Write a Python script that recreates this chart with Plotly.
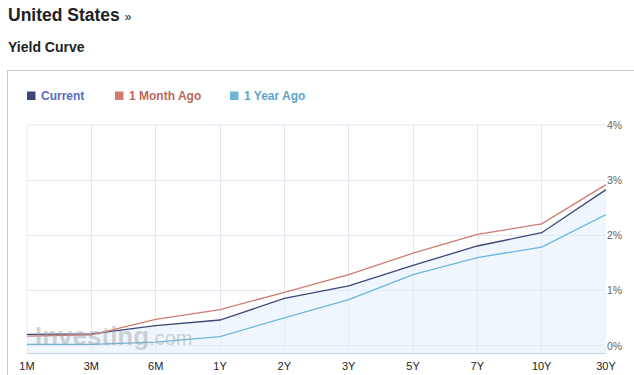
import plotly.graph_objects as go

maturities = ["1M", "3M", "6M", "1Y", "2Y", "3Y", "5Y", "7Y", "10Y", "30Y"]
current = [0.21, 0.22, 0.37, 0.47, 0.86, 1.09, 1.46, 1.81, 2.05, 2.83]
month_ago = [0.18, 0.20, 0.48, 0.66, 0.97, 1.29, 1.68, 2.02, 2.21, 2.92]
year_ago = [0.03, 0.03, 0.07, 0.17, 0.51, 0.84, 1.29, 1.60, 1.79, 2.38]
y_ticks = [0, 1, 2, 3, 4]
y_tick_labels = ["0%", "1%", "2%", "3%", "4%"]

W, H = 634, 375
L, R, T, B = 27, 606, 125, 353
Y_MIN, Y_MAX = -0.127, 4.0

def px(x):
    return (x - L) / (R - L)

def py(y):
    return (B - y) / (B - T)

C_NAVY = "#3d4778"
C_RED = "#cf7b6f"
C_BLUE = "#6db5da"

fig = go.Figure()
# baseline for the area fill under Current
fig.add_trace(go.Scatter(x=maturities, y=[Y_MIN] * len(maturities), mode="lines",
                         line=dict(width=0), hoverinfo="skip", showlegend=False))
fig.add_trace(go.Scatter(x=maturities, y=current, mode="lines", name="Current",
                         line=dict(color=C_NAVY, width=1.3), fill="tonexty",
                         fillcolor="rgba(226,238,252,0.55)", showlegend=False))
fig.add_trace(go.Scatter(x=maturities, y=year_ago, mode="lines", name="1 Year Ago",
                         line=dict(color=C_BLUE, width=1.3), showlegend=False))
fig.add_trace(go.Scatter(x=maturities, y=month_ago, mode="lines", name="1 Month Ago",
                         line=dict(color=C_RED, width=1.3), showlegend=False))

grid = "#e3e9f4"
fig.update_xaxes(type="category", range=[0, len(maturities) - 1], autorange=False,
                 showgrid=True, gridcolor=grid, gridwidth=1,
                 showline=True, linecolor="#c5d3e3", linewidth=1,
                 ticks="", ticklabelstandoff=3, automargin=False,
                 tickfont=dict(family="Liberation Sans, Arial", size=11, color="#222"),
                 zeroline=False, fixedrange=True)
fig.update_yaxes(range=[Y_MIN, Y_MAX], autorange=False, side="right",
                 tickvals=y_ticks, ticktext=y_tick_labels, automargin=False,
                 showgrid=True, gridcolor=grid, gridwidth=1, zeroline=False,
                 showline=False, ticks="",
                 tickfont=dict(family="Liberation Sans, Arial", size=10.5, color="#666"),
                 fixedrange=True)

shapes = [
    # container box border
    dict(type="line", xref="paper", yref="paper", x0=px(7.5), x1=px(W + 5), y0=py(70.5), y1=py(70.5),
         line=dict(color="#c9c9c9", width=1)),
    dict(type="line", xref="paper", yref="paper", x0=px(7.5), x1=px(7.5), y0=py(70.5), y1=py(H + 5),
         line=dict(color="#c9c9c9", width=1)),
    # left / top gridlines of plot
    dict(type="line", xref="paper", yref="paper", x0=0, x1=0, y0=0, y1=1,
         line=dict(color=grid, width=1), layer="below"),
    dict(type="line", xref="paper", yref="paper", x0=0, x1=1, y0=1, y1=1,
         line=dict(color=grid, width=1), layer="below"),
]

legend_items = [("Current", C_NAVY, "#5b6cbf", 27), ("1 Month Ago", C_RED, "#bd675c", 115),
                ("1 Year Ago", C_BLUE, "#5fa3cb", 230)]
annotations = []
for name, sq, tc, x0 in legend_items:
    shapes.append(dict(type="rect", xref="paper", yref="paper", x0=px(x0), x1=px(x0 + 8.5),
                       y0=py(100), y1=py(91.5), fillcolor=sq, line=dict(width=0)))
    annotations.append(dict(text="<b>%s</b>" % name, xref="paper", yref="paper",
                            x=px(x0 + 13), y=py(96), xanchor="left", yanchor="middle",
                            showarrow=False, borderpad=0,
                            font=dict(family="Liberation Sans, Arial", size=12, color=tc)))

annotations += [
    dict(text="<b>United States</b> <span style='font-size:12px'>»</span>", xref="paper", yref="paper",
         x=px(7), y=py(14.5), xanchor="left", yanchor="middle", showarrow=False, borderpad=0,
         font=dict(family="Liberation Sans, Arial", size=17.5, color="#222")),
    dict(text="<b>Yield Curve</b>", xref="paper", yref="paper",
         x=px(7), y=py(46.5), xanchor="left", yanchor="middle", showarrow=False, borderpad=0,
         font=dict(family="Liberation Sans, Arial", size=14, color="#222")),
    dict(text="<b>Investing</b><span style='font-size:20px'>.com</span>", xref="paper", yref="paper",
         x=px(34), y=py(336), xanchor="left", yanchor="middle", showarrow=False, borderpad=0,
         font=dict(family="Liberation Sans, Arial", size=26, color="rgba(160,160,160,0.45)")),
]

fig.update_layout(width=W, height=H, margin=dict(l=L, r=W - R, t=T, b=H - B),
                  paper_bgcolor="white", plot_bgcolor="white", showlegend=False,
                  shapes=shapes, annotations=annotations)

fig.write_html("out.html", config={"displayModeBar": False},
               post_script="document.body.style.margin='0';document.body.style.overflow='hidden';")
